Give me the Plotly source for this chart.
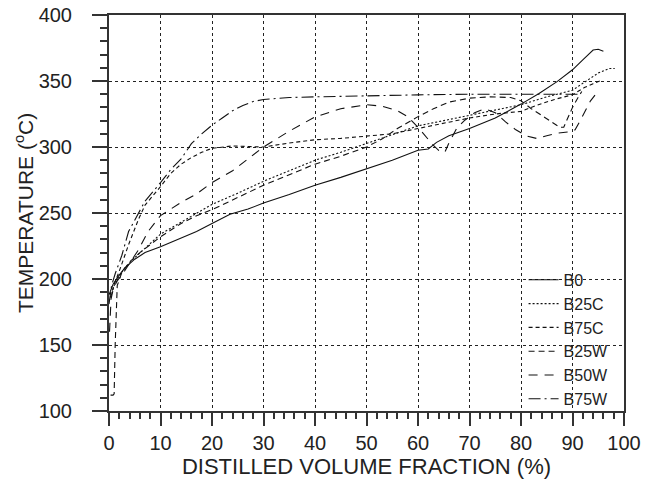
import plotly.graph_objects as go

# ---- data ----
series_names = ["B0", "B25C", "B75C", "B25W", "B50W", "B75W"]

b0_x = [0, 0.8, 1.8, 3, 5, 7, 10, 14, 17, 20, 23.5, 27, 30, 35, 40, 45, 50, 55, 60, 62, 63.6, 66, 70, 75, 80, 83.5, 87, 90, 92, 94, 95, 96]
b0_t = [188, 196, 202, 208, 215, 220, 224.5, 231, 236, 242, 249, 253, 257.5, 264, 271, 277, 283.5, 290, 297.5, 298.5, 303.5, 308.5, 314, 322, 332.5, 340.5, 349.5, 358.5, 366, 373.5, 374, 372.5]

b25c_x = [0.3, 1, 1.8, 3, 4.4, 7, 10, 14, 17, 20, 25, 30, 35, 40, 45, 50, 55, 60, 65, 70, 75, 80, 85, 90, 92.3, 95, 97.2, 98.2]
b25c_t = [186, 195, 201, 208, 214, 223, 234, 243, 250, 256.5, 265, 274, 282, 290, 296, 302.5, 309, 316, 320, 324, 328, 332, 338, 343, 349, 356, 359.5, 359.5]

b75c_x = [0.3, 1, 2, 3.8, 5.7, 7, 10, 12, 14, 16, 18, 20, 24, 28, 30, 35, 40, 45, 50, 55, 60, 65, 70, 75, 80, 83, 86.5, 90, 92.3, 94, 95.6]
b75c_t = [186, 196, 206, 226, 245, 256, 270, 280, 287, 292, 296, 299, 300.8, 300.5, 300, 303, 305.5, 306.5, 308, 310, 314, 318, 322, 325, 327, 331.5, 336, 339.6, 345, 348, 350.5]

b25w_x = [0.3, 0.8, 1.0, 1.2, 1.6, 2.5, 4, 6, 8, 10, 14, 17, 20, 25, 30, 35, 40, 45, 50, 53, 56, 60, 63, 66, 70, 74, 78, 80, 82, 84, 86, 87.5, 88.3, 89, 90, 91, 91.8]
b25w_t = [112, 112, 113, 150, 195, 205, 213, 220, 226, 232, 242, 248, 252.5, 262, 271, 279, 287, 293, 300, 306, 314, 323, 329, 334, 337, 338, 337.5, 335, 329, 324, 319, 315, 315, 321, 330, 337, 342]

b50w_x = [0.1, 0.4, 0.8, 1.5, 3, 5.7, 7.6, 10, 14, 17, 20, 24, 30, 35, 40, 45, 50, 53, 56, 58, 60, 61.5, 62.8, 64, 65.2, 66, 67.5, 69, 71, 73, 75, 77, 79, 81, 83, 85, 87, 89.5, 90.5, 91.5, 92.5, 93.5, 94.5]
b50w_t = [160, 185, 192, 198, 206, 222, 236, 248, 258, 264.5, 273, 282, 300, 312, 322.8, 329, 332, 331, 327.5, 323, 315, 308, 302, 297.5, 296, 303, 314, 320, 326, 329, 326, 319, 313, 308.5, 306.5, 308.5, 310.5, 311.5, 313, 320, 328, 335, 340]

b75w_x = [0, 0.5, 1.2, 2.5, 3.8, 5.7, 7, 10, 12, 14, 16, 18, 20, 22, 24, 26, 28, 30, 35, 40, 50, 60, 70, 80, 85, 91]
b75w_t = [181, 195, 204, 218, 236, 249, 259, 273, 283, 291, 302.5, 310, 316.5, 322, 327.5, 331.5, 334.5, 336, 337.5, 338, 339, 339.5, 340, 340, 340, 340]

x_ticks = [0, 10, 20, 30, 40, 50, 60, 70, 80, 90, 100]
y_ticks = [100, 150, 200, 250, 300, 350, 400]
x_title = "DISTILLED VOLUME FRACTION (%)"
y_title = "TEMPERATURE (<sup>o</sup>C)"

xs = [b0_x, b25c_x, b75c_x, b25w_x, b50w_x, b75w_x]
ts = [b0_t, b25c_t, b75c_t, b25w_t, b50w_t, b75w_t]
dashes = ["solid", "2px,2px", "4px,3px", "6px,4px", "9px,7px", "12px,4px,2px,4px"]

FONT = "Liberation Sans, Arial, Helvetica, sans-serif"

fig = go.Figure()
for name, x, t, d in zip(series_names, xs, ts, dashes):
    fig.add_trace(go.Scatter(x=x, y=t, name=name, mode="lines",
                             line=dict(color="#111111", width=1.1, dash=d)))

axis_common = dict(
    showline=True, linecolor="#333333", linewidth=2, mirror=True,
    ticks="outside", tickcolor="#333333", tickwidth=1.5,
    showgrid=True, gridcolor="#222222", griddash="dot", gridwidth=1,
    zeroline=False, automargin=False, ticklabeloverflow="allow",
    tickfont=dict(family=FONT, size=20, color="#222222"),
)

fig.update_xaxes(range=[0, 100], tickvals=x_ticks, ticklen=13,
                 minor=dict(dtick=2, ticks="outside", ticklen=6, tickcolor="#333333", showgrid=False),
                 title=dict(text=x_title, font=dict(family=FONT, size=22, color="#222222"), standoff=6),
                 **axis_common)
fig.update_yaxes(range=[100, 400], tickvals=y_ticks, ticklen=15,
                 minor=dict(dtick=10, ticks="outside", ticklen=7, tickcolor="#333333", showgrid=False),
                 ticklabelstandoff=16,
                 **axis_common)

# y-axis title as a rotated paper-anchored text (axis titles are pinned inside the margin)
fig.add_annotation(text=y_title, xref="paper", yref="paper", x=-0.165, y=0.5,
                   xanchor="center", yanchor="middle", textangle=-90, showarrow=False,
                   font=dict(family=FONT, size=21, color="#222222"))

# page body has an 8px default margin, so the figure is sized/offset to compensate
fig.update_layout(
    width=646, height=475,
    margin=dict(l=101, r=30, t=7, b=72),
    paper_bgcolor="white", plot_bgcolor="white",
    showlegend=True,
    legend=dict(x=0.805, y=0.374, xanchor="left", yanchor="top",
                bgcolor="rgba(0,0,0,0)", borderwidth=0,
                font=dict(family=FONT, size=16, color="#222222"),
                tracegroupgap=0),
)

fig.write_html("out.html")
